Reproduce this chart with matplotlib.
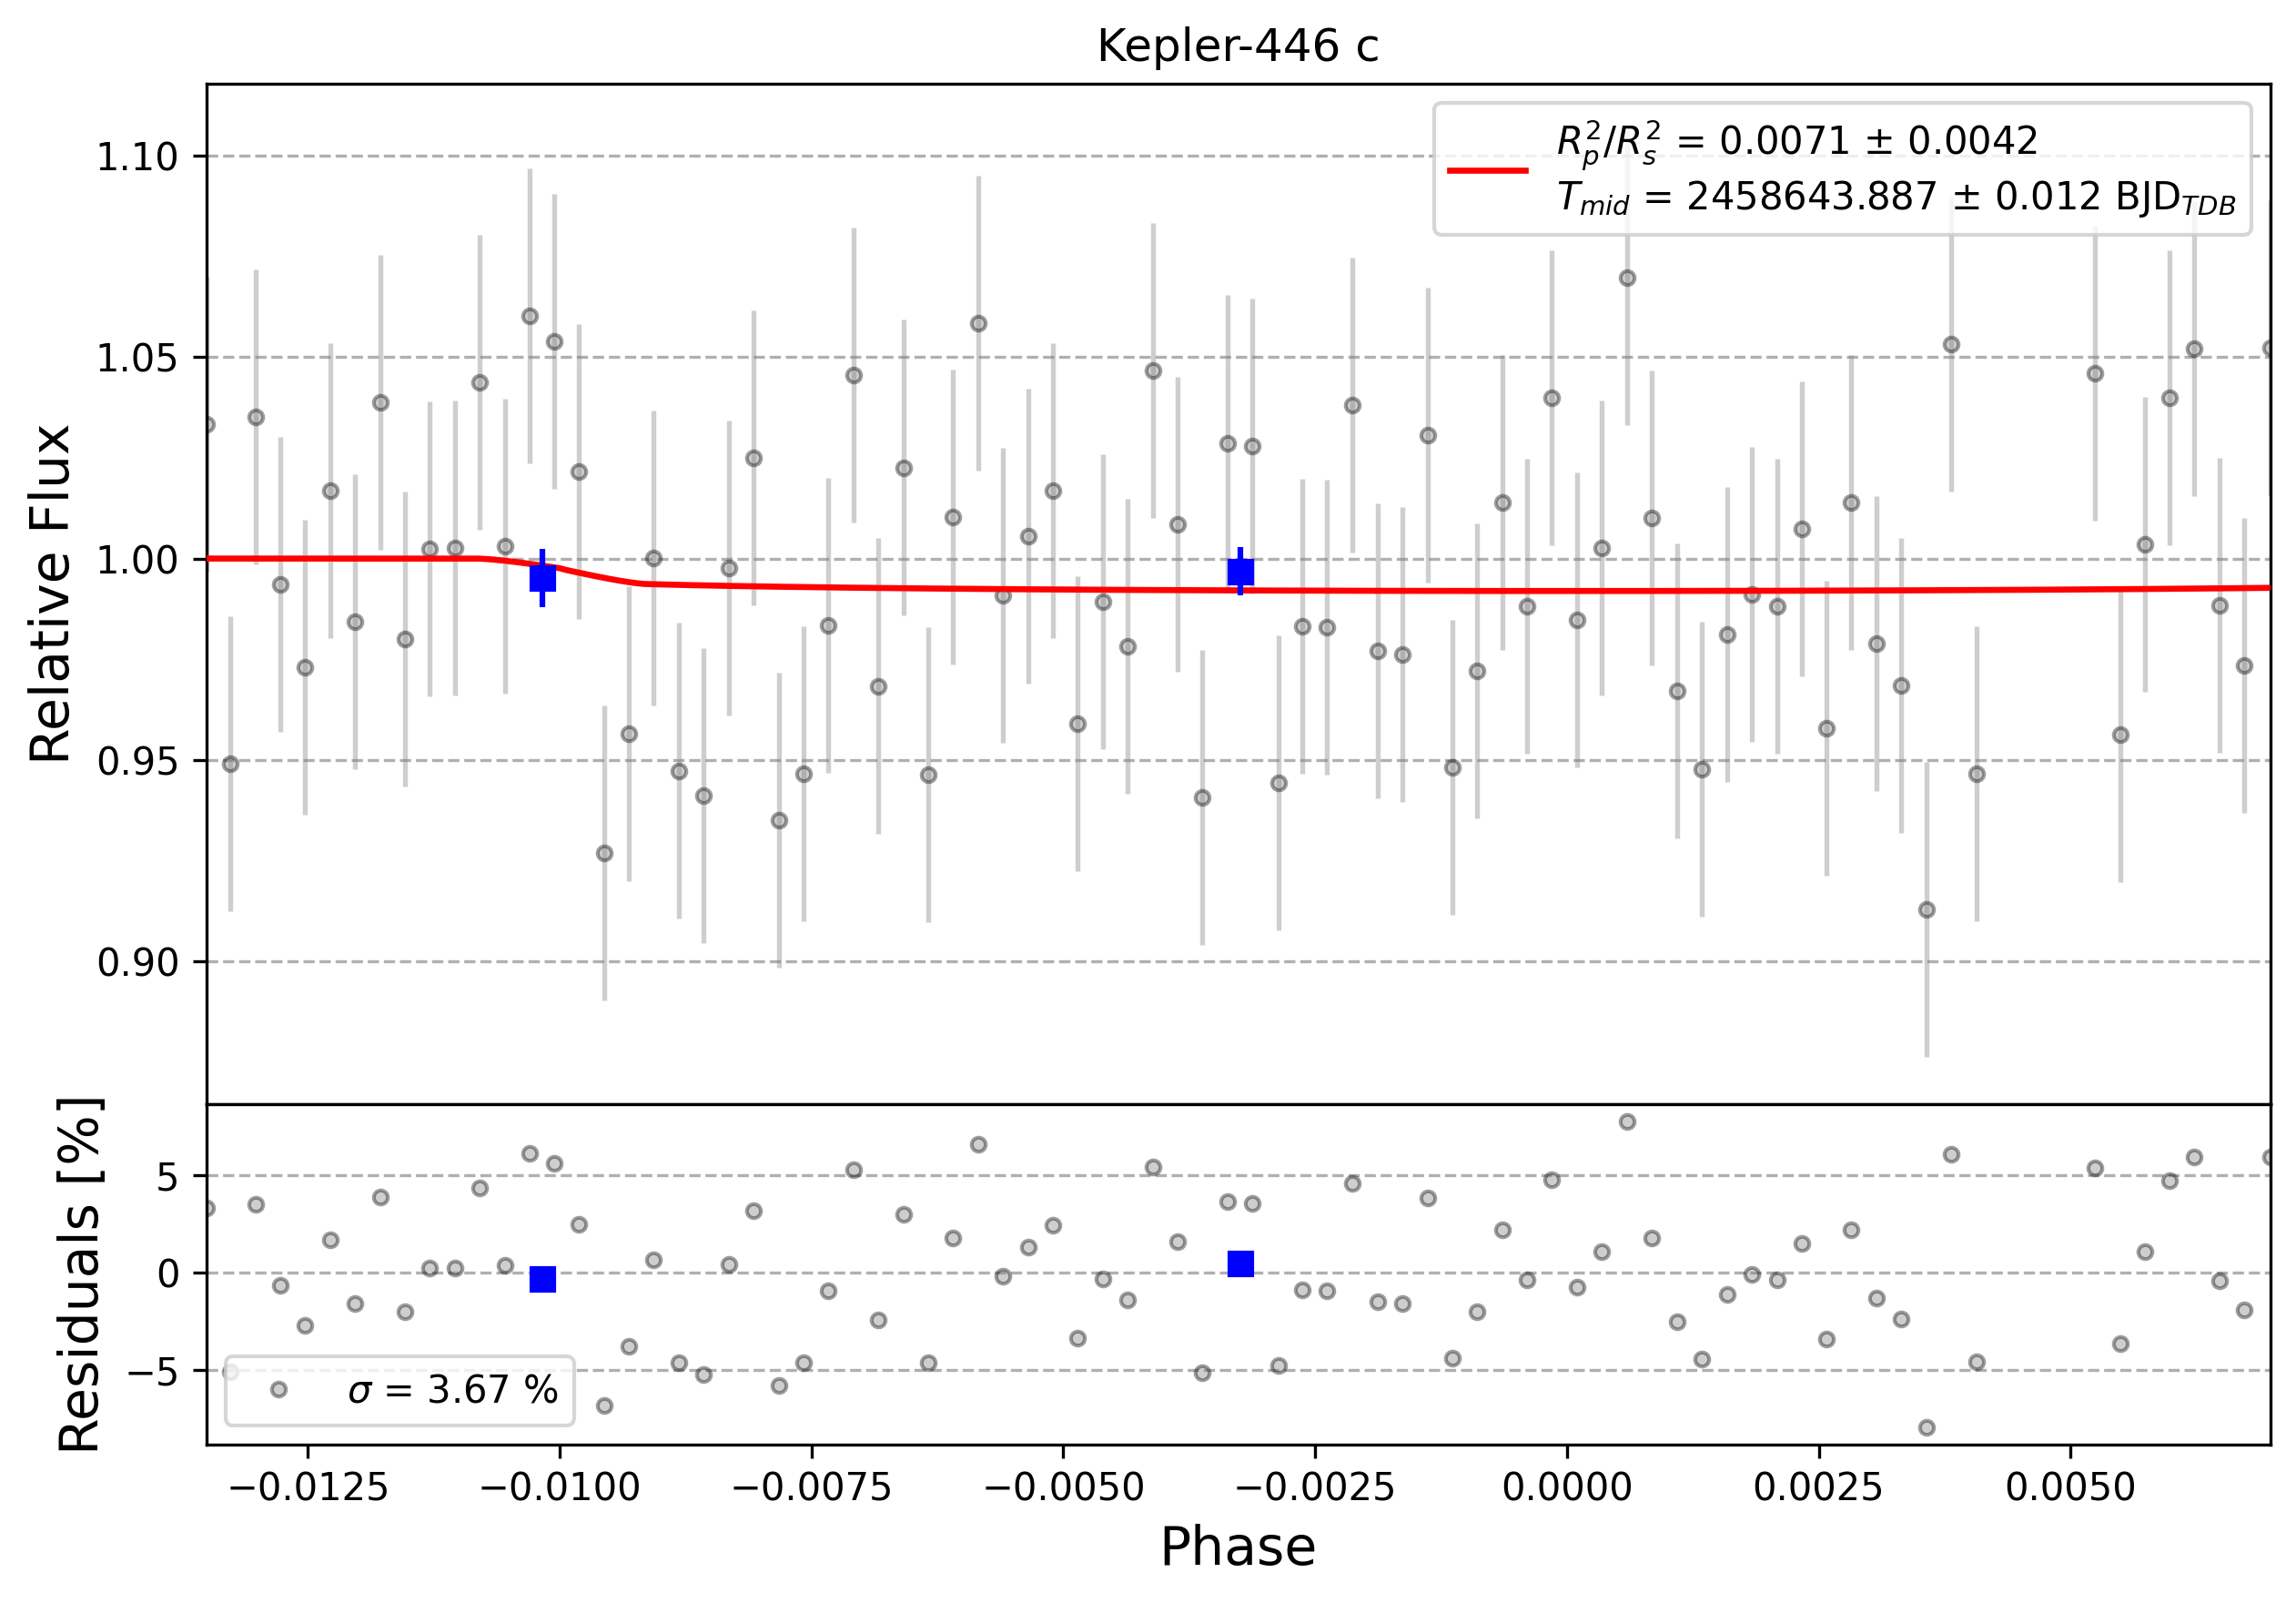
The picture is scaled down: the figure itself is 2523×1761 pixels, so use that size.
import numpy as np
import matplotlib
matplotlib.use('Agg')
import matplotlib.pyplot as plt

# phase-folded light curve
phase = [-0.013508, -0.013272, -0.013022, -0.012774, -0.012528, -0.012276, -0.012034, -0.011785,
         -0.011536, -0.011290, -0.011038, -0.010792, -0.010543, -0.010298, -0.010056, -0.009810,
         -0.009558, -0.009313, -0.009067, -0.008818, -0.008570, -0.008320, -0.008076, -0.007827,
         -0.007579, -0.007333, -0.007081, -0.006839, -0.006589, -0.006341, -0.006095, -0.005843,
         -0.005597, -0.005348, -0.005103, -0.004861, -0.004604, -0.004363, -0.004111, -0.003865,
         -0.003623, -0.003367, -0.003125, -0.002867, -0.002625, -0.002383, -0.002127, -0.001878,
         -0.001636, -0.001381, -0.001138, -0.000893, -0.000637, -0.000395, -0.000154, 0.000103,
         0.000345, 0.000597, 0.000843, 0.001091, 0.001341, 0.001593, 0.001835, 0.002087,
         0.002336, 0.002580, 0.002824, 0.003076, 0.003320, 0.003571, 0.003818, 0.004069,
         0.005245, 0.005496, 0.005741, 0.005985, 0.006230, 0.006480, 0.006725, 0.006982]
flux = [1.0334, 0.9490, 1.0352, 0.9935, 0.9731, 1.0168, 0.9844, 1.0387, 0.9800, 1.0024,
        1.0026, 1.0437, 1.0031, 1.0602, 1.0539, 1.0216, 0.9269, 0.9565, 1.0002, 0.9474,
        0.9411, 0.9976, 1.0250, 0.9350, 0.9466, 0.9835, 1.0456, 0.9684, 1.0226, 0.9463,
        1.0102, 1.0585, 0.9908, 1.0056, 1.0168, 0.9590, 0.9892, 0.9782, 1.0466, 1.0084,
        0.9408, 1.0287, 1.0279, 0.9444, 0.9831, 0.9829, 1.0381, 0.9771, 0.9761, 1.0306,
        0.9482, 0.9721, 1.0139, 0.9882, 1.0398, 0.9848, 1.0026, 1.0697, 1.0100, 0.9671,
        0.9477, 0.9811, 0.9911, 0.9882, 1.0073, 0.9579, 1.0140, 0.9789, 0.9685, 0.9129,
        1.0532, 0.9466, 1.0460, 0.9563, 1.0035, 1.0398, 1.0521, 0.9884, 0.9735, 1.0523]
flux_err = 0.0366

# binned points
bin_phase = [-0.010174, -0.003239]
bin_flux = [0.9952, 0.9968]
bin_err = [0.0072, 0.0060]

# transit fit parameters
rprs2 = 0.0071
half_t14 = 0.010829   # phase of first contact
u1, u2 = 0.33, 0.05   # limb darkening
sigma_label = r'$\sigma$ = 3.67 %'
fit_label = (r'$R^{2}_{p}/R^{2}_{s}$ = 0.0071 ± 0.0042' + '\n'
             + r'$T_{mid}$ = 2458643.887 ± 0.012 BJD$_{TDB}$')


def transit_model(ph):
    k = np.sqrt(rprs2)
    z = np.abs(np.asarray(ph)) / half_t14 * (1 + k)
    lam = np.zeros_like(z)
    full = z <= 1 - k
    lam[full] = k**2
    part = (z > 1 - k) & (z < 1 + k)
    zp = z[part]
    k0 = np.arccos(np.clip((k**2 + zp**2 - 1) / (2 * k * zp), -1, 1))
    k1 = np.arccos(np.clip((1 - k**2 + zp**2) / (2 * zp), -1, 1))
    lam[part] = (k**2 * k0 + k1 - 0.5 * np.sqrt(np.clip(4 * zp**2 - (1 + zp**2 - k**2)**2, 0, None))) / np.pi
    mu = np.sqrt(1 - np.minimum(z, 1)**2)
    inten = 1 - u1 * (1 - mu) - u2 * (1 - mu)**2
    mean_i = 1 - u1 / 3 - u2 / 6
    return 1 - lam * inten / mean_i


phase = np.array(phase)
flux = np.array(flux)
resid = (flux - transit_model(phase)) * 100
bin_resid = (np.array(bin_flux) - transit_model(bin_phase)) * 100

ph_hr = np.linspace(phase.min(), phase.max(), 1000)

fig = plt.figure(figsize=(8.41, 5.87), dpi=300)
ax_lc = fig.add_axes([0.0899, 0.31136, 0.89884, 0.6364])
ax_res = fig.add_axes([0.0899, 0.0990, 0.89884, 0.21236])

ax_lc.errorbar(phase, flux, yerr=flux_err, ls='none', marker='o', color='gray',
               markersize=3.7, mec='black', mfc='gray', alpha=0.38, elinewidth=1.3)
ax_lc.plot(ph_hr, transit_model(ph_hr), 'r', lw=1.6, zorder=3, label=fit_label)
ax_lc.errorbar(bin_phase, bin_flux, yerr=bin_err, fmt='s', color='blue', zorder=4)
ax_lc.set_title('Kepler-446 c', fontsize=12)
ax_lc.set_ylabel('Relative Flux', fontsize=14)
ax_lc.set_xlim(phase.min(), phase.max())
ax_lc.set_ylim(0.8647, 1.1178)
ax_lc.set_yticks([0.90, 0.95, 1.00, 1.05, 1.10])
ax_lc.tick_params(axis='x', bottom=False, labelbottom=False)
ax_lc.grid(True, axis='y', ls='--')
ax_lc.legend(loc='upper right', fontsize=10)

ax_res.plot(phase, resid, 'o', color='gray', markersize=3.7, mec='black', mfc='gray',
            alpha=0.38, label=sigma_label)
ax_res.plot(bin_phase, bin_resid, 's', color='blue', zorder=4)
ax_res.set_xlim(phase.min(), phase.max())
ax_res.set_ylim(-8.8, 8.67)
ax_res.set_yticks([-5, 0, 5])
ax_res.grid(True, axis='y', ls='--')
ax_res.set_xlabel('Phase', fontsize=14)
ax_res.set_ylabel('Residuals [%]', fontsize=14)
ax_res.legend(loc='lower left', fontsize=10)

fig.savefig('out.png', dpi=300)
